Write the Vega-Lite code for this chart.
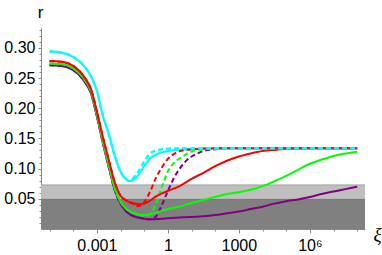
{
  "$schema": "https://vega.github.io/schema/vega-lite/v6.json",
  "width": 324,
  "height": 201,
  "autosize": "none",
  "padding": {"left": 41, "top": 28, "right": 17, "bottom": 26},
  "config": {"view": {"stroke": null}, "font": "Liberation Sans"},
  "datasets": {
    "bands": [
      {"band": "dark", "lo": 0, "hi": 0.049},
      {"band": "light", "lo": 0.049, "hi": 0.073}
    ],
    "curves": [
      {"c": "cs", "xi": 1e-5, "r": 0.294}, {"c": "cs", "xi": 3.162e-5, "r": 0.292}, {"c": "cs", "xi": 1e-4, "r": 0.285}, {"c": "cs", "xi": 3.162e-4, "r": 0.268}, {"c": "cs", "xi": 5.623e-4, "r": 0.253}, {"c": "cs", "xi": 0.001, "r": 0.229}, {"c": "cs", "xi": 0.001778, "r": 0.188}, {"c": "cs", "xi": 0.003162, "r": 0.158}, {"c": "cs", "xi": 0.005623, "r": 0.122}, {"c": "cs", "xi": 0.01, "r": 0.095}, {"c": "cs", "xi": 0.01778, "r": 0.082}, {"c": "cs", "xi": 0.02371, "r": 0.0795}, {"c": "cs", "xi": 0.03162, "r": 0.0805}, {"c": "cs", "xi": 0.05623, "r": 0.089}, {"c": "cs", "xi": 0.1, "r": 0.104}, {"c": "cs", "xi": 0.1778, "r": 0.117}, {"c": "cs", "xi": 0.3162, "r": 0.123}, {"c": "cs", "xi": 0.5623, "r": 0.127}, {"c": "cs", "xi": 1, "r": 0.129}, {"c": "cs", "xi": 1.778, "r": 0.1305}, {"c": "cs", "xi": 3.162, "r": 0.1315}, {"c": "cs", "xi": 10, "r": 0.1325}, {"c": "cs", "xi": 31.62, "r": 0.133}, {"c": "cs", "xi": 100, "r": 0.1333}, {"c": "cs", "xi": 1000, "r": 0.1335}, {"c": "cs", "xi": 1e5, "r": 0.1335}, {"c": "cs", "xi": 1e8, "r": 0.1335},

      {"c": "cd", "xi": 1e-5, "r": 0.294}, {"c": "cd", "xi": 3.162e-5, "r": 0.292}, {"c": "cd", "xi": 1e-4, "r": 0.285}, {"c": "cd", "xi": 3.162e-4, "r": 0.268}, {"c": "cd", "xi": 5.623e-4, "r": 0.253}, {"c": "cd", "xi": 0.001, "r": 0.229}, {"c": "cd", "xi": 0.001778, "r": 0.188}, {"c": "cd", "xi": 0.003162, "r": 0.158}, {"c": "cd", "xi": 0.005623, "r": 0.122}, {"c": "cd", "xi": 0.01, "r": 0.095}, {"c": "cd", "xi": 0.01778, "r": 0.082}, {"c": "cd", "xi": 0.02371, "r": 0.0795}, {"c": "cd", "xi": 0.03162, "r": 0.083}, {"c": "cd", "xi": 0.05623, "r": 0.095}, {"c": "cd", "xi": 0.1, "r": 0.112}, {"c": "cd", "xi": 0.1778, "r": 0.125}, {"c": "cd", "xi": 0.3162, "r": 0.13}, {"c": "cd", "xi": 0.5623, "r": 0.132}, {"c": "cd", "xi": 1, "r": 0.133}, {"c": "cd", "xi": 3.162, "r": 0.1335}, {"c": "cd", "xi": 1000, "r": 0.1335}, {"c": "cd", "xi": 1e8, "r": 0.1335},

      {"c": "rs", "xi": 1e-5, "r": 0.278}, {"c": "rs", "xi": 3.162e-5, "r": 0.277}, {"c": "rs", "xi": 1e-4, "r": 0.27}, {"c": "rs", "xi": 3.162e-4, "r": 0.25}, {"c": "rs", "xi": 5.623e-4, "r": 0.232}, {"c": "rs", "xi": 0.001, "r": 0.195}, {"c": "rs", "xi": 0.001778, "r": 0.153}, {"c": "rs", "xi": 0.003162, "r": 0.115}, {"c": "rs", "xi": 0.005623, "r": 0.078}, {"c": "rs", "xi": 0.01, "r": 0.055}, {"c": "rs", "xi": 0.01778, "r": 0.047}, {"c": "rs", "xi": 0.03162, "r": 0.043}, {"c": "rs", "xi": 0.05623, "r": 0.041}, {"c": "rs", "xi": 0.1, "r": 0.042}, {"c": "rs", "xi": 0.1778, "r": 0.047}, {"c": "rs", "xi": 0.3162, "r": 0.054}, {"c": "rs", "xi": 0.5623, "r": 0.059}, {"c": "rs", "xi": 1, "r": 0.063}, {"c": "rs", "xi": 3.162, "r": 0.071}, {"c": "rs", "xi": 10, "r": 0.083}, {"c": "rs", "xi": 31.62, "r": 0.093}, {"c": "rs", "xi": 100, "r": 0.104}, {"c": "rs", "xi": 316.2, "r": 0.113}, {"c": "rs", "xi": 1000, "r": 0.12}, {"c": "rs", "xi": 3162, "r": 0.125}, {"c": "rs", "xi": 1e4, "r": 0.129}, {"c": "rs", "xi": 31623, "r": 0.131}, {"c": "rs", "xi": 1e5, "r": 0.1325}, {"c": "rs", "xi": 316228, "r": 0.1333}, {"c": "rs", "xi": 1e6, "r": 0.1335}, {"c": "rs", "xi": 1e8, "r": 0.1335},

      {"c": "rd", "xi": 1e-5, "r": 0.278}, {"c": "rd", "xi": 3.162e-5, "r": 0.277}, {"c": "rd", "xi": 1e-4, "r": 0.27}, {"c": "rd", "xi": 3.162e-4, "r": 0.25}, {"c": "rd", "xi": 5.623e-4, "r": 0.232}, {"c": "rd", "xi": 0.001, "r": 0.195}, {"c": "rd", "xi": 0.001778, "r": 0.153}, {"c": "rd", "xi": 0.003162, "r": 0.115}, {"c": "rd", "xi": 0.005623, "r": 0.078}, {"c": "rd", "xi": 0.01, "r": 0.055}, {"c": "rd", "xi": 0.01778, "r": 0.047}, {"c": "rd", "xi": 0.03162, "r": 0.042}, {"c": "rd", "xi": 0.05623, "r": 0.038}, {"c": "rd", "xi": 0.1, "r": 0.044}, {"c": "rd", "xi": 0.1778, "r": 0.062}, {"c": "rd", "xi": 0.3162, "r": 0.085}, {"c": "rd", "xi": 0.5623, "r": 0.102}, {"c": "rd", "xi": 1, "r": 0.116}, {"c": "rd", "xi": 1.778, "r": 0.124}, {"c": "rd", "xi": 3.162, "r": 0.129}, {"c": "rd", "xi": 5.623, "r": 0.131}, {"c": "rd", "xi": 10, "r": 0.132}, {"c": "rd", "xi": 31.62, "r": 0.1333}, {"c": "rd", "xi": 100, "r": 0.1335}, {"c": "rd", "xi": 1e5, "r": 0.1335}, {"c": "rd", "xi": 1e8, "r": 0.1335},

      {"c": "gs", "xi": 1e-5, "r": 0.274}, {"c": "gs", "xi": 3.162e-5, "r": 0.273}, {"c": "gs", "xi": 1e-4, "r": 0.266}, {"c": "gs", "xi": 3.162e-4, "r": 0.246}, {"c": "gs", "xi": 5.623e-4, "r": 0.228}, {"c": "gs", "xi": 0.001, "r": 0.19}, {"c": "gs", "xi": 0.001778, "r": 0.146}, {"c": "gs", "xi": 0.003162, "r": 0.106}, {"c": "gs", "xi": 0.005623, "r": 0.068}, {"c": "gs", "xi": 0.01, "r": 0.045}, {"c": "gs", "xi": 0.01778, "r": 0.033}, {"c": "gs", "xi": 0.03162, "r": 0.027}, {"c": "gs", "xi": 0.05623, "r": 0.024}, {"c": "gs", "xi": 0.1, "r": 0.023}, {"c": "gs", "xi": 0.1778, "r": 0.024}, {"c": "gs", "xi": 0.3162, "r": 0.027}, {"c": "gs", "xi": 0.5623, "r": 0.03}, {"c": "gs", "xi": 1, "r": 0.033}, {"c": "gs", "xi": 3.162, "r": 0.037}, {"c": "gs", "xi": 10, "r": 0.043}, {"c": "gs", "xi": 31.62, "r": 0.048}, {"c": "gs", "xi": 100, "r": 0.053}, {"c": "gs", "xi": 316.2, "r": 0.058}, {"c": "gs", "xi": 1000, "r": 0.061}, {"c": "gs", "xi": 3162, "r": 0.065}, {"c": "gs", "xi": 1e4, "r": 0.071}, {"c": "gs", "xi": 31623, "r": 0.079}, {"c": "gs", "xi": 1e5, "r": 0.088}, {"c": "gs", "xi": 316228, "r": 0.098}, {"c": "gs", "xi": 1e6, "r": 0.108}, {"c": "gs", "xi": 3162278, "r": 0.115}, {"c": "gs", "xi": 1e7, "r": 0.121}, {"c": "gs", "xi": 31622777, "r": 0.125}, {"c": "gs", "xi": 1e8, "r": 0.128},

      {"c": "gd", "xi": 1e-5, "r": 0.274}, {"c": "gd", "xi": 3.162e-5, "r": 0.273}, {"c": "gd", "xi": 1e-4, "r": 0.266}, {"c": "gd", "xi": 3.162e-4, "r": 0.246}, {"c": "gd", "xi": 5.623e-4, "r": 0.228}, {"c": "gd", "xi": 0.001, "r": 0.19}, {"c": "gd", "xi": 0.001778, "r": 0.146}, {"c": "gd", "xi": 0.003162, "r": 0.106}, {"c": "gd", "xi": 0.005623, "r": 0.068}, {"c": "gd", "xi": 0.01, "r": 0.045}, {"c": "gd", "xi": 0.01778, "r": 0.033}, {"c": "gd", "xi": 0.03162, "r": 0.027}, {"c": "gd", "xi": 0.05623, "r": 0.024}, {"c": "gd", "xi": 0.1, "r": 0.022}, {"c": "gd", "xi": 0.1778, "r": 0.025}, {"c": "gd", "xi": 0.3162, "r": 0.042}, {"c": "gd", "xi": 0.5623, "r": 0.07}, {"c": "gd", "xi": 1, "r": 0.095}, {"c": "gd", "xi": 1.778, "r": 0.109}, {"c": "gd", "xi": 3.162, "r": 0.117}, {"c": "gd", "xi": 5.623, "r": 0.123}, {"c": "gd", "xi": 10, "r": 0.128}, {"c": "gd", "xi": 17.78, "r": 0.131}, {"c": "gd", "xi": 31.62, "r": 0.132}, {"c": "gd", "xi": 100, "r": 0.1333}, {"c": "gd", "xi": 316.2, "r": 0.1335}, {"c": "gd", "xi": 1e5, "r": 0.1335}, {"c": "gd", "xi": 1e8, "r": 0.1335},

      {"c": "ps", "xi": 1e-5, "r": 0.271}, {"c": "ps", "xi": 3.162e-5, "r": 0.27}, {"c": "ps", "xi": 1e-4, "r": 0.263}, {"c": "ps", "xi": 3.162e-4, "r": 0.243}, {"c": "ps", "xi": 5.623e-4, "r": 0.225}, {"c": "ps", "xi": 0.001, "r": 0.187}, {"c": "ps", "xi": 0.001778, "r": 0.143}, {"c": "ps", "xi": 0.003162, "r": 0.103}, {"c": "ps", "xi": 0.005623, "r": 0.065}, {"c": "ps", "xi": 0.01, "r": 0.042}, {"c": "ps", "xi": 0.01778, "r": 0.029}, {"c": "ps", "xi": 0.03162, "r": 0.022}, {"c": "ps", "xi": 0.05623, "r": 0.019}, {"c": "ps", "xi": 0.1, "r": 0.017}, {"c": "ps", "xi": 0.1778, "r": 0.016}, {"c": "ps", "xi": 0.3162, "r": 0.0165}, {"c": "ps", "xi": 0.5623, "r": 0.017}, {"c": "ps", "xi": 1, "r": 0.018}, {"c": "ps", "xi": 3.162, "r": 0.019}, {"c": "ps", "xi": 10, "r": 0.02}, {"c": "ps", "xi": 31.62, "r": 0.021}, {"c": "ps", "xi": 100, "r": 0.023}, {"c": "ps", "xi": 316.2, "r": 0.026}, {"c": "ps", "xi": 1000, "r": 0.029}, {"c": "ps", "xi": 3162, "r": 0.033}, {"c": "ps", "xi": 1e4, "r": 0.037}, {"c": "ps", "xi": 31623, "r": 0.042}, {"c": "ps", "xi": 1e5, "r": 0.046}, {"c": "ps", "xi": 316228, "r": 0.049}, {"c": "ps", "xi": 1e6, "r": 0.053}, {"c": "ps", "xi": 3162278, "r": 0.058}, {"c": "ps", "xi": 1e7, "r": 0.062}, {"c": "ps", "xi": 31622777, "r": 0.066}, {"c": "ps", "xi": 1e8, "r": 0.07},

      {"c": "pd", "xi": 1e-5, "r": 0.271}, {"c": "pd", "xi": 3.162e-5, "r": 0.27}, {"c": "pd", "xi": 1e-4, "r": 0.263}, {"c": "pd", "xi": 3.162e-4, "r": 0.243}, {"c": "pd", "xi": 5.623e-4, "r": 0.225}, {"c": "pd", "xi": 0.001, "r": 0.187}, {"c": "pd", "xi": 0.001778, "r": 0.143}, {"c": "pd", "xi": 0.003162, "r": 0.103}, {"c": "pd", "xi": 0.005623, "r": 0.065}, {"c": "pd", "xi": 0.01, "r": 0.042}, {"c": "pd", "xi": 0.01778, "r": 0.029}, {"c": "pd", "xi": 0.03162, "r": 0.022}, {"c": "pd", "xi": 0.05623, "r": 0.019}, {"c": "pd", "xi": 0.1, "r": 0.017}, {"c": "pd", "xi": 0.1778, "r": 0.016}, {"c": "pd", "xi": 0.3162, "r": 0.021}, {"c": "pd", "xi": 0.5623, "r": 0.04}, {"c": "pd", "xi": 1, "r": 0.063}, {"c": "pd", "xi": 1.778, "r": 0.084}, {"c": "pd", "xi": 3.162, "r": 0.1}, {"c": "pd", "xi": 5.623, "r": 0.112}, {"c": "pd", "xi": 10, "r": 0.12}, {"c": "pd", "xi": 17.78, "r": 0.125}, {"c": "pd", "xi": 31.62, "r": 0.129}, {"c": "pd", "xi": 100, "r": 0.132}, {"c": "pd", "xi": 316.2, "r": 0.1335}, {"c": "pd", "xi": 1e5, "r": 0.1335}, {"c": "pd", "xi": 1e8, "r": 0.1335}
    ]
  },
  "encoding": {
    "x": {"field": "xi", "type": "quantitative", "scale": {"type": "log", "domain": [4.37e-6, 2.14e8], "nice": false}},
    "y": {"field": "r", "type": "quantitative", "scale": {"domain": [0, 0.3328], "nice": false, "zero": false}}
  },
  "layer": [
    {
      "data": {"name": "bands"},
      "mark": {"type": "rect"},
      "encoding": {
        "x": null,
        "y": {"field": "lo", "type": "quantitative", "axis": null},
        "y2": {"field": "hi"},
        "fill": {"field": "band", "type": "nominal", "scale": {"domain": ["dark", "light"], "range": ["#808080", "#bfbfbf"]}, "legend": null}
      }
    },
    {
      "data": {"name": "bands"},
      "mark": {"type": "rule", "strokeWidth": 1},
      "encoding": {
        "x": null,
        "y": {"field": "hi", "type": "quantitative", "axis": null},
        "stroke": {"field": "band", "type": "nominal", "scale": {"domain": ["dark", "light"], "range": ["#747474", "#a3a3a3"]}, "legend": null}
      }
    },
    {
      "data": {"name": "curves"},
      "transform": [{"filter": "datum.c == 'ps'"}],
      "mark": {"type": "line", "color": "#800080", "strokeWidth": 2, "interpolate": "monotone"},
      "encoding": {
        "x": {"field": "xi", "type": "quantitative", "axis": {"orient": "bottom", "values": [0.001, 1, 1000, 1000000], "labelExpr": "datum.value == 0.001 ? '0.001' : datum.value == 1000000 ? '10⁶' : format(datum.value, 'd')", "labelFontSize": 16, "labelColor": "#000", "labelPadding": 4, "tickSize": 4, "tickColor": "#888", "domainColor": "#888", "grid": false, "labelFlush": false, "labelOverlap": false, "title": "ξ", "titleFont": "Liberation Serif", "titleFontStyle": "italic", "titleFontWeight": "normal", "titleFontSize": 19, "titleColor": "#000", "titleX": 336, "titleY": 5, "titleAlign": "center", "titleBaseline": "middle", "titleAngle": 0}},
        "y": {"field": "r", "type": "quantitative", "axis": {"orient": "left", "values": [0.05, 0.1, 0.15, 0.2, 0.25, 0.3], "format": ".2f", "labelFontSize": 16, "labelColor": "#000", "labelPadding": 3, "tickSize": 3, "tickColor": "#888", "domainColor": "#888", "grid": false, "labelFlush": false, "labelOverlap": false, "title": "r", "titleFontWeight": "normal", "titleFontSize": 17, "titleColor": "#000", "titleAngle": 0, "titleX": -1, "titleY": -11, "titleAlign": "center", "titleBaseline": "alphabetic"}}
      }
    },
    {
      "data": {"name": "curves"},
      "transform": [{"filter": "datum.c == 'pd'"}],
      "mark": {"type": "line", "color": "#800080", "strokeWidth": 2, "strokeDash": [5, 3], "interpolate": "monotone"},
      "encoding": {
        "x": {"field": "xi", "type": "quantitative", "axis": {"orient": "bottom", "values": [1e-5, 1e-4, 0.01, 0.1, 10, 100, 10000, 100000, 10000000, 100000000], "labels": false, "tickSize": 2, "tickColor": "#888", "domain": false, "grid": false, "title": null}},
        "y": {"field": "r", "type": "quantitative", "axis": {"orient": "left", "values": [0.01, 0.02, 0.03, 0.04, 0.06, 0.07, 0.08, 0.09, 0.11, 0.12, 0.13, 0.14, 0.16, 0.17, 0.18, 0.19, 0.21, 0.22, 0.23, 0.24, 0.26, 0.27, 0.28, 0.29, 0.31, 0.32, 0.33], "labels": false, "tickSize": 2, "tickColor": "#888", "domain": false, "grid": false, "title": null}}
      }
    },
    {
      "data": {"name": "curves"},
      "transform": [{"filter": "datum.c == 'gs'"}],
      "mark": {"type": "line", "color": "#00ff00", "strokeWidth": 2, "interpolate": "monotone"},
      "encoding": {"x": {"field": "xi", "type": "quantitative", "axis": null}, "y": {"field": "r", "type": "quantitative", "axis": null}}
    },
    {
      "data": {"name": "curves"},
      "transform": [{"filter": "datum.c == 'gd'"}],
      "mark": {"type": "line", "color": "#00ff00", "strokeWidth": 2, "strokeDash": [5, 3], "interpolate": "monotone"},
      "encoding": {"x": {"field": "xi", "type": "quantitative", "axis": null}, "y": {"field": "r", "type": "quantitative", "axis": null}}
    },
    {
      "data": {"name": "curves"},
      "transform": [{"filter": "datum.c == 'rs'"}],
      "mark": {"type": "line", "color": "#ff0000", "strokeWidth": 2, "interpolate": "monotone"},
      "encoding": {"x": {"field": "xi", "type": "quantitative", "axis": null}, "y": {"field": "r", "type": "quantitative", "axis": null}}
    },
    {
      "data": {"name": "curves"},
      "transform": [{"filter": "datum.c == 'cs'"}],
      "mark": {"type": "line", "color": "#00ffff", "strokeWidth": 2.2, "interpolate": "monotone"},
      "encoding": {"x": {"field": "xi", "type": "quantitative", "axis": null}, "y": {"field": "r", "type": "quantitative", "axis": null}}
    },
    {
      "data": {"name": "curves"},
      "transform": [{"filter": "datum.c == 'rd'"}],
      "mark": {"type": "line", "color": "#ff0000", "strokeWidth": 2, "strokeDash": [5, 3], "interpolate": "monotone"},
      "encoding": {"x": {"field": "xi", "type": "quantitative", "axis": null}, "y": {"field": "r", "type": "quantitative", "axis": null}}
    },
    {
      "data": {"name": "curves"},
      "transform": [{"filter": "datum.c == 'cd'"}],
      "mark": {"type": "line", "color": "#00ffff", "strokeWidth": 2.2, "strokeDash": [5, 3], "interpolate": "monotone"},
      "encoding": {"x": {"field": "xi", "type": "quantitative", "axis": null}, "y": {"field": "r", "type": "quantitative", "axis": null}}
    }
  ],
  "resolve": {"axis": {"x": "independent", "y": "independent"}}
}
